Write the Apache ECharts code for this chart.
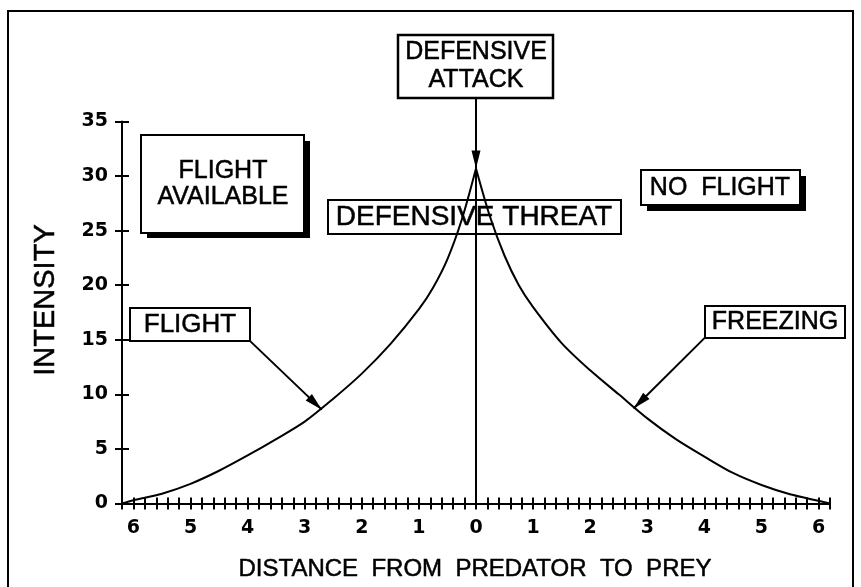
<!DOCTYPE html>
<html>
<head>
<meta charset="utf-8">
<script src="https://cdn.jsdelivr.net/npm/echarts@6/dist/echarts.min.js"></script>
<style>
html,body{margin:0;padding:0;background:#fff;}
#chart{width:861px;height:587px;}
</style>
</head>
<body>
<div id="chart"></div>
<script>
// ---- data ----
const leftX  = [-6.2, -6, -5.5, -5, -4.5, -4, -3.5, -3, -2.5, -2, -1.5, -1, -0.75, -0.5, -0.25, 0];
const leftY  = [0, 0.3, 0.9, 1.8, 3.0, 4.4, 5.9, 7.5, 9.6, 11.9, 14.6, 17.8, 19.8, 22.4, 26.0, 30.7];
const rightX = [0, 0.25, 0.5, 0.75, 1, 1.5, 2, 2.5, 3, 3.5, 4, 4.5, 5, 5.5, 6, 6.2];
const rightY = [30.7, 26.2, 22.7, 20.0, 18.0, 14.7, 12.2, 10.0, 7.8, 5.9, 4.3, 2.8, 1.7, 0.85, 0.25, 0];
const xTickValues = [-6, -5, -4, -3, -2, -1, 0, 1, 2, 3, 4, 5, 6];
const xTickLabels = ['6', '5', '4', '3', '2', '1', '0', '1', '2', '3', '4', '5', '6'];
const yTickValues = [0, 5, 10, 15, 20, 25, 30, 35];
const yTickLabels = ['0', '5', '10', '15', '20', '25', '30', '35'];
// annotation segments: [x0, y0, x1, y1, arrowhead at end (1/0)]
const attackArrow   = [0, 37.2, 0, 30.7, 1];
const attackStem    = [0, 30.7, 0, 0, 0];
const flightArrow   = [-3.96, 14.9, -2.70, 8.6, 1];
const freezingArrow = [4.01, 15.2, 2.76, 8.7, 1];

const xTitle = 'DISTANCE  FROM  PREDATOR  TO  PREY';
const yTitle = 'INTENSITY';

const chart = echarts.init(document.getElementById('chart'), null, {renderer: 'canvas'});
const FONT = '"Liberation Sans", Arial, sans-serif';
const TICKFONT = '"DejaVu Sans", sans-serif';

function zip(xs, ys) { return xs.map((x, i) => [x, ys[i]]); }
function lookup(vals, labels, v) {
  const r = Math.round(v * 10) / 10;
  const i = vals.indexOf(r);
  return i >= 0 ? labels[i] : '';
}

const axisLineStyle = {color: '#000', width: 2};
const curveStyle = {color: '#000', width: 2};

function txt(x, y, text, size, extra) {
  return Object.assign({
    type: 'text', x: x, y: y, z: 12,
    style: {text: text, font: size + 'px ' + FONT, fill: '#000', stroke: '#000', lineWidth: 0.5,
            align: 'center', verticalAlign: 'middle'}
  }, extra || {});
}

const option = {
  backgroundColor: '#fff',
  animation: false,
  grid: {left: 122, right: 31, top: 121.5, bottom: 83.5},
  xAxis: [
    {
      type: 'value', min: -6.2, max: 6.2, interval: 0.2,
      axisLine: {onZero: false, lineStyle: axisLineStyle},
      axisTick: {show: true, length: 6, lineStyle: {color: '#000', width: 2}},
      axisLabel: {
        margin: 15, color: '#000', fontFamily: TICKFONT, fontWeight: 'bold', fontSize: 19,
        formatter: v => lookup(xTickValues, xTickLabels, v)
      },
      splitLine: {show: false}
    },
    {
      type: 'value', min: -6.2, max: 6.2, interval: 0.2, position: 'bottom',
      axisLine: {show: false, onZero: false},
      axisTick: {show: true, inside: true, length: 6, lineStyle: {color: '#000', width: 2}},
      axisLabel: {show: false},
      splitLine: {show: false}
    }
  ],
  yAxis: [
    {
      type: 'value', min: 0, max: 35, interval: 5,
      axisLine: {show: true, onZero: false, lineStyle: axisLineStyle},
      axisTick: {show: true, length: 7, lineStyle: {color: '#000', width: 2}},
      axisLabel: {
        margin: 14, color: '#000', fontFamily: TICKFONT, fontWeight: 'bold', fontSize: 19,
        formatter: v => lookup(yTickValues, yTickLabels, v)
      },
      splitLine: {show: false}
    },
    {
      type: 'value', min: 0, max: 35, interval: 5, position: 'left',
      axisLine: {show: false, onZero: false},
      axisTick: {show: true, inside: true, length: 7, lineStyle: {color: '#000', width: 2}},
      axisLabel: {show: false},
      splitLine: {show: false}
    }
  ],
  series: [
    {
      type: 'line', data: zip(leftX, leftY), smooth: 0.3,
      showSymbol: false, lineStyle: curveStyle, clip: false
    },
    {
      type: 'line', data: zip(rightX, rightY), smooth: 0.3,
      showSymbol: false, lineStyle: curveStyle, clip: false
    },
    {
      type: 'custom', clip: false, silent: true,
      data: [attackArrow, attackStem, flightArrow, freezingArrow],
      encode: {x: [0, 2], y: [1, 3]},
      renderItem: function (params, api) {
        const p0 = api.coord([api.value(0), api.value(1)]);
        const p1 = api.coord([api.value(2), api.value(3)]);
        const head = api.value(4);
        const children = [{
          type: 'line', shape: {x1: p0[0], y1: p0[1], x2: p1[0], y2: p1[1]},
          style: {stroke: '#000', lineWidth: 2}
        }];
        if (head) {
          const dx = p1[0] - p0[0], dy = p1[1] - p0[1];
          const L = Math.sqrt(dx * dx + dy * dy);
          const ux = dx / L, uy = dy / L;
          const len = 18, hw = 4.5;
          const bx = p1[0] - ux * len, by = p1[1] - uy * len;
          children.push({
            type: 'polygon',
            shape: {points: [[p1[0], p1[1]], [bx - uy * hw, by + ux * hw], [bx + uy * hw, by - ux * hw]]},
            style: {fill: '#000'}
          });
        }
        return {type: 'group', children: children};
      }
    }
  ],
  graphic: [
    // outer frame
    {type: 'rect', shape: {x: 8, y: 11, width: 845, height: 600}, style: {fill: 'none', stroke: '#000', lineWidth: 2}, z: 1},
    // DEFENSIVE ATTACK
    {type: 'rect', shape: {x: 398, y: 35, width: 155, height: 63}, style: {fill: '#fff', stroke: '#000', lineWidth: 2.5}, z: 10},
    txt(476, 52, 'DEFENSIVE', 25),
    txt(476, 80, 'ATTACK', 25),
    // FLIGHT AVAILABLE (with shadow)
    {type: 'rect', shape: {x: 147, y: 141, width: 163, height: 97}, style: {fill: '#000'}, z: 10},
    {type: 'rect', shape: {x: 141, y: 135, width: 163, height: 98}, style: {fill: '#fff', stroke: '#000', lineWidth: 2}, z: 11},
    txt(223, 171, 'FLIGHT', 25),
    txt(223, 197, 'AVAILABLE', 25),
    // NO FLIGHT (with shadow)
    {type: 'rect', shape: {x: 647, y: 176, width: 159, height: 35}, style: {fill: '#000'}, z: 10},
    {type: 'rect', shape: {x: 641, y: 170, width: 159, height: 35}, style: {fill: '#fff', stroke: '#000', lineWidth: 2}, z: 11},
    txt(720, 188, 'NO  FLIGHT', 25),
    // DEFENSIVE THREAT (transparent)
    {type: 'rect', shape: {x: 328, y: 200, width: 293, height: 34}, style: {fill: 'none', stroke: '#000', lineWidth: 2}, z: 11},
    txt(474, 217, 'DEFENSIVE THREAT', 28),
    // FLIGHT
    {type: 'rect', shape: {x: 130, y: 308, width: 120, height: 33}, style: {fill: '#fff', stroke: '#000', lineWidth: 2}, z: 11},
    txt(190, 325, 'FLIGHT', 26),
    // FREEZING
    {type: 'rect', shape: {x: 705, y: 306, width: 140, height: 32}, style: {fill: '#fff', stroke: '#000', lineWidth: 2}, z: 11},
    txt(775, 322, 'FREEZING', 25),
    // axis titles
    txt(475, 569, xTitle, 24),
    txt(46, 300, yTitle, 29, {rotation: Math.PI / 2})
  ]
};
chart.setOption(option);
</script>
</body>
</html>
